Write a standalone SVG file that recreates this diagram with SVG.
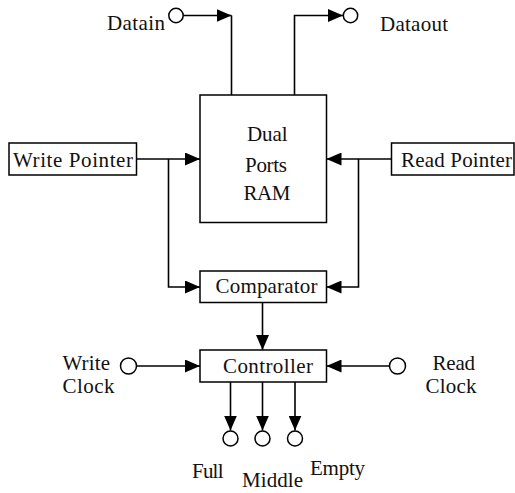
<svg xmlns="http://www.w3.org/2000/svg" width="515" height="493" viewBox="0 0 515 493">
<defs>
<marker id="arr" markerUnits="userSpaceOnUse" markerWidth="15" markerHeight="13" refX="15" refY="6.5" orient="auto">
<path d="M0,0 L15,6.5 L0,13 z" fill="#000"/>
</marker>
</defs>
<style>
rect.box{fill:#fff;stroke:#000;stroke-width:1.5}
circle.port{fill:#fff;stroke:#000;stroke-width:1.5}
.wire{fill:none;stroke:#000;stroke-width:1.6}
.lbl{fill:#111}
</style>
<g id="connectors">
<path class="wire" d="M183,15.5 H231.5" marker-end="url(#arr)"/>
<path class="wire" d="M231.5,15.5 V95"/>
<path class="wire" d="M294.5,95 V15.5 H343" marker-end="url(#arr)"/>
<path class="wire" d="M136.5,159 H200" marker-end="url(#arr)"/>
<path class="wire" d="M391.5,159 H326.5" marker-end="url(#arr)"/>
<path class="wire" d="M168.5,159 V287 H200" marker-end="url(#arr)"/>
<path class="wire" d="M358.5,159 V287 H326.5" marker-end="url(#arr)"/>
<path class="wire" d="M262.5,302.5 V350" marker-end="url(#arr)"/>
<path class="wire" d="M136,366 H200" marker-end="url(#arr)"/>
<path class="wire" d="M390,366 H326.5" marker-end="url(#arr)"/>
<path class="wire" d="M230.5,382 V430.5" marker-end="url(#arr)"/>
<path class="wire" d="M262.5,382 V430.5" marker-end="url(#arr)"/>
<path class="wire" d="M295,382 V430.5" marker-end="url(#arr)"/>
</g>
<g id="nodes" font-family="Liberation Serif, Times New Roman, serif" font-size="21">
<g id="datain">
<circle class="port" cx="176" cy="15.5" r="7.2"/>
<text class="lbl" x="107" y="30" textLength="58" lengthAdjust="spacing">Datain</text>
</g>
<g id="dataout">
<circle class="port" cx="350.5" cy="15.5" r="7.2"/>
<text class="lbl" x="380" y="30.5" textLength="68" lengthAdjust="spacing">Dataout</text>
</g>
<g id="ram">
<rect class="box" x="200" y="95" width="126.5" height="127.5"/>
<text class="lbl" x="247" y="140.5" textLength="40.5" lengthAdjust="spacing">Dual</text>
<text class="lbl" x="245" y="171.5" textLength="42" lengthAdjust="spacing">Ports</text>
<text class="lbl" x="243.5" y="200" textLength="47" lengthAdjust="spacing">RAM</text>
</g>
<g id="write-pointer">
<rect class="box" x="9" y="143" width="127.5" height="32"/>
<text class="lbl" x="13" y="167" textLength="120" lengthAdjust="spacing">Write Pointer</text>
</g>
<g id="read-pointer">
<rect class="box" x="391.5" y="143" width="122.5" height="32"/>
<text class="lbl" x="401" y="167" textLength="111" lengthAdjust="spacing">Read Pointer</text>
</g>
<g id="comparator">
<rect class="box" x="200" y="271" width="126.5" height="31.5"/>
<text class="lbl" x="215.5" y="293" textLength="102" lengthAdjust="spacing">Comparator</text>
</g>
<g id="controller">
<rect class="box" x="200" y="350" width="126.5" height="32"/>
<text class="lbl" x="223" y="372.5" textLength="90" lengthAdjust="spacing">Controller</text>
</g>
<g id="write-clock">
<circle class="port" cx="128.5" cy="366" r="8"/>
<text class="lbl" x="62.5" y="370" textLength="47.5" lengthAdjust="spacing">Write</text>
<text class="lbl" x="62.5" y="393" textLength="52" lengthAdjust="spacing">Clock</text>
</g>
<g id="read-clock">
<circle class="port" cx="397.5" cy="366" r="8"/>
<text class="lbl" x="432.5" y="369.5" textLength="42.5" lengthAdjust="spacing">Read</text>
<text class="lbl" x="425.5" y="393" textLength="51" lengthAdjust="spacing">Clock</text>
</g>
<g id="full">
<circle class="port" cx="230.5" cy="438.5" r="7.5"/>
<text class="lbl" x="192" y="477.5" textLength="31.5" lengthAdjust="spacing">Full</text>
</g>
<g id="middle">
<circle class="port" cx="262.5" cy="438.5" r="7.5"/>
<text class="lbl" x="242" y="487" textLength="61" lengthAdjust="spacing">Middle</text>
</g>
<g id="empty">
<circle class="port" cx="295" cy="438.5" r="7.5"/>
<text class="lbl" x="310" y="475" textLength="55" lengthAdjust="spacing">Empty</text>
</g>
</g>
</svg>
